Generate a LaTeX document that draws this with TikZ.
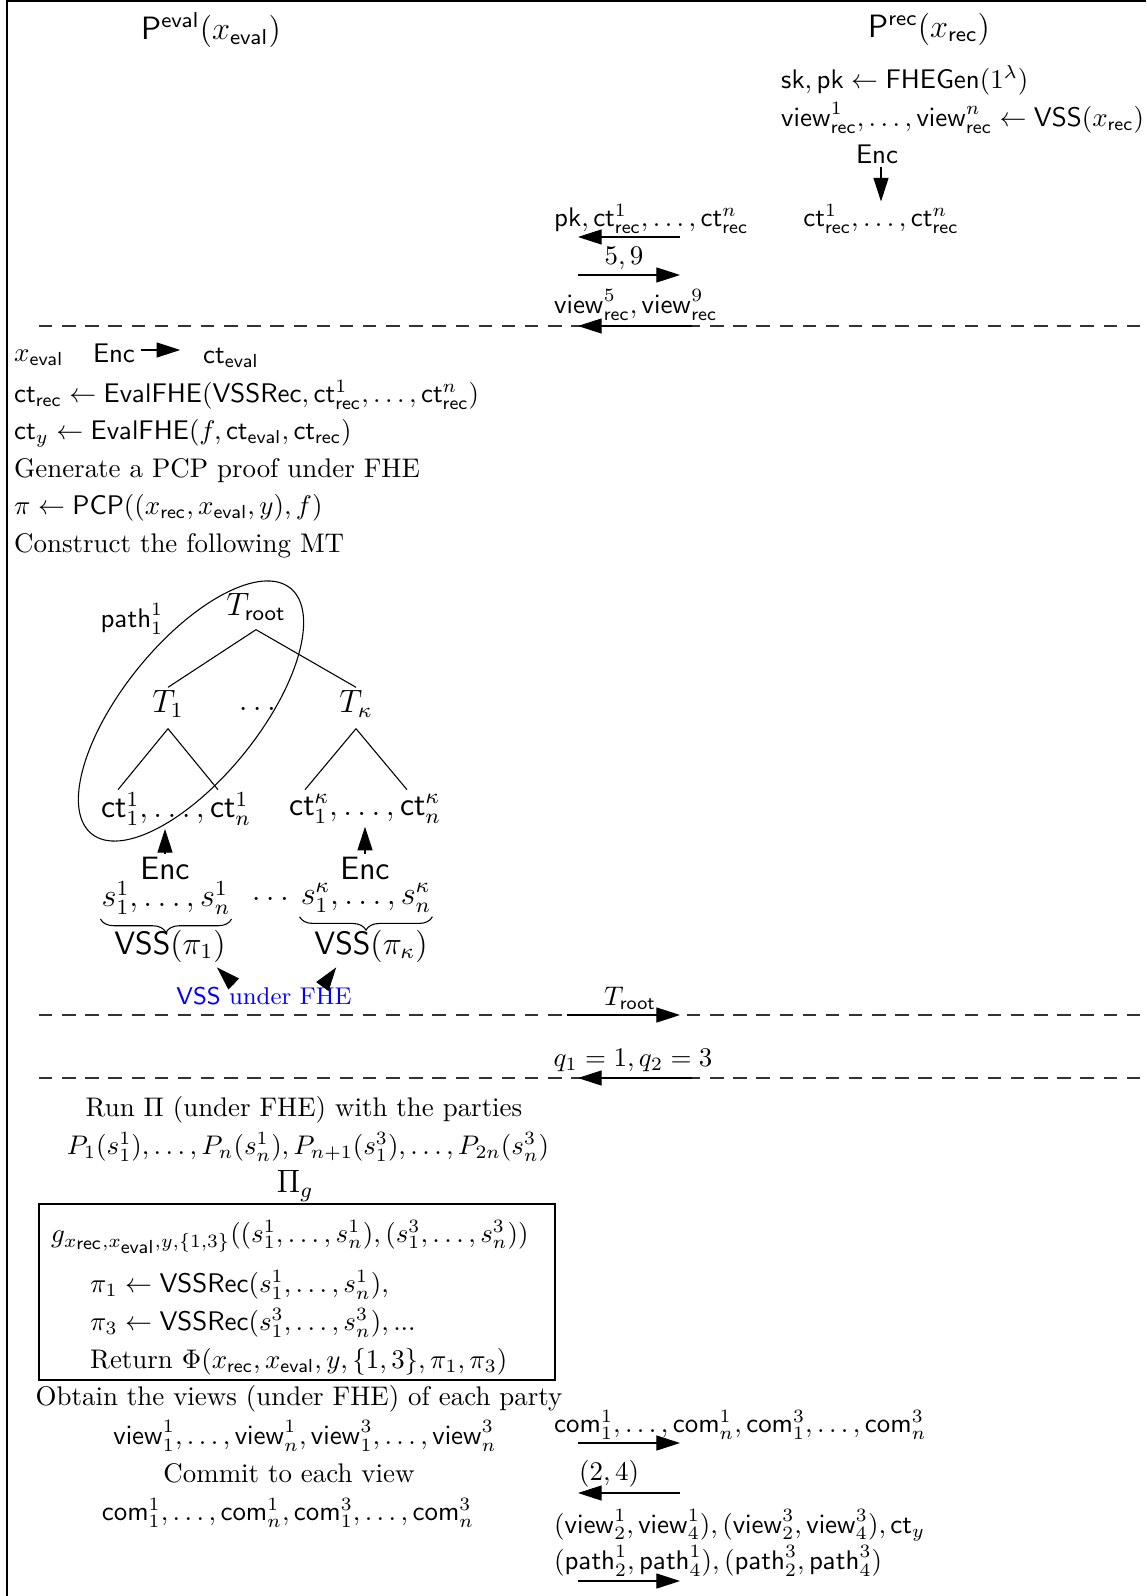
\documentclass[tikz,border=0pt]{standalone}
\usepackage{amsmath,amssymb}
\usetikzlibrary{arrows.meta,decorations.pathreplacing}

\newcommand{\sfct}{\mathsf{ct}}
\newcommand{\sfrec}{\mathsf{rec}}
\newcommand{\sfev}{\mathsf{eval}}
\newcommand{\sfview}{\mathsf{view}}
\newcommand{\sfcom}{\mathsf{com}}
\newcommand{\sfpath}{\mathsf{path}}

\tikzset{
  msg/.style={-{Triangle[length=8.8pt,width=5.6pt]}},
  txt/.style={inner sep=1pt},
  lft/.style={inner sep=1pt, anchor=west},
  sep/.style={dash pattern=on 5pt off 3.6pt, black!80},
  vssbrace/.style={decorate,decoration={brace,mirror,amplitude=5pt}},
}

\begin{document}
\begin{tikzpicture}[x=0.3716pt, y=-0.3716pt]
  \useasboundingbox (0,0) rectangle (1146,1596);
  \draw (7,1596) -- (7,1) -- (1146,1);

  % the two parties
  \node[txt,font=\large] (peval) at (211,30) {$\mathsf{P}^{\sfev}(x_{\sfev})$};
  \node[txt,font=\large] (prec) at (929,29) {$\mathsf{P}^{\sfrec}(x_{\sfrec})$};

  % receiver setup
  \node[lft] (keys) at (778,80) {$\mathsf{sk},\mathsf{pk}\leftarrow\mathsf{FHEGen}(1^\lambda)$};
  \node[lft] (shares) at (778,118) {$\sfview^1_{\sfrec},\dots,\sfview^n_{\sfrec}\leftarrow\mathsf{VSS}(x_{\sfrec})$};
  \node[txt] (encr) at (877,154) {$\mathsf{Enc}$};
  \node[txt] (ctr) at (881,219) {$\sfct^1_{\sfrec},\dots,\sfct^n_{\sfrec}$};
  \draw[msg] (encr.south -| ctr) -- (ctr.north);

  % messages
  \foreach \n/\y in {1/237,2/275,3/326,4/1015,5/1078,6/1443,7/1493,8/1581}{
    \coordinate (l\n) at (578,\y);
    \coordinate (r\n) at (680,\y);
  }
  \node[lft] (m1) at (551,219) {$\mathsf{pk},\sfct^1_{\sfrec},\dots,\sfct^n_{\sfrec}$};
  \node[txt] (m2) at (624,258) {$5,9$};
  \node[lft] (m3) at (551,305) {$\sfview^5_{\sfrec},\sfview^9_{\sfrec}$};
  \draw[msg] (r1) -- (l1);
  \draw[msg] (l2) -- (r2);
  \draw[sep] (39,326) -- (1146,326);
  \draw[msg] ([shift={(12,0)}]r3) -- (l3);

  % evaluator
  \node[lft] (xev) at (11,358) {$x_{\sfev}$};
  \node[txt] (enceval) at (114,353) {$\mathsf{Enc}$};
  \node[lft] (ctev) at (200,358) {$\sfct_{\sfev}$};
  \draw[msg] ([shift={(3,-3)}]enceval.east) -- ++(39,0);
  \node[lft] (l2eval) at (11,395) {$\sfct_{\sfrec}\leftarrow\mathsf{EvalFHE}(\mathsf{VSSRec},\sfct^1_{\sfrec},\dots,\sfct^n_{\sfrec})$};
  \node[lft] (l3eval) at (11,433) {$\sfct_y\leftarrow\mathsf{EvalFHE}(f,\sfct_{\sfev},\sfct_{\sfrec})$};
  \node[lft] (l4eval) at (11,471) {Generate a PCP proof under FHE};
  \node[lft] (l5eval) at (11,508) {$\pi\leftarrow\mathsf{PCP}((x_{\sfrec},x_{\sfev},y),f)$};
  \node[lft] (l6eval) at (11,546) {Construct the following MT};

  % Merkle tree
  \begin{scope}[font=\large]
    \node[txt] (troot) at (256,607) {$T_{\mathsf{root}}$};
    \node[txt] (t1) at (168,704) {$T_1$};
    \node[txt] (tdots) at (260,709) {$\dots$};
    \node[txt] (tk) at (356,704) {$T_\kappa$};
    \node[txt] (ctone) at (176,809) {$\sfct^1_1,\dots,\sfct^1_n$};
    \node[txt] (ctk) at (365,809) {$\sfct^\kappa_1,\dots,\sfct^\kappa_n$};
    \node[txt] (enc1) at (165,868) {$\mathsf{Enc}$};
    \node[txt] (enck) at (365,868) {$\mathsf{Enc}$};
    \node[txt] (sone) at (166,898) {$s^1_1,\dots,s^1_n$};
    \node[txt] (sdots) at (273,899) {$\dots$};
    \node[txt] (sk) at (366,898) {$s^\kappa_1,\dots,s^\kappa_n$};
    \node[txt] (vss1) at (170,946) {$\mathsf{VSS}(\pi_1)$};
    \node[txt] (vssk) at (371,946) {$\mathsf{VSS}(\pi_\kappa)$};
  \end{scope}
  \node[txt] (pth) at (132,619) {$\sfpath^1_1$};
  \draw ([shift={(0,6)}]troot.south) -- (t1.north);
  \draw ([shift={(0,6)}]troot.south) -- (tk.north);
  \draw ([shift={(0,8)}]t1.south) -- ++(-50,61);
  \draw ([shift={(0,8)}]t1.south) -- ++(50,61);
  \draw ([shift={(0,8)}]tk.south) -- ++(-51,61);
  \draw ([shift={(0,8)}]tk.south) -- ++(51,61);
  \draw[rotate around={51:(191,711)}] (191,711) ellipse (158 and 68);
  \draw[msg] (enc1.north) -- (enc1.north |- ctone.south);
  \draw[msg] (enck.north) -- (enck.north |- ctk.south);
  \draw[vssbrace] ([shift={(2,1)}]sone.south west) -- ([shift={(-2,1)}]sone.south east);
  \draw[vssbrace] ([shift={(2,1)}]sk.south west) -- ([shift={(-2,1)}]sk.south east);
  \node[txt,font=\small] (vsslbl) at (264,996) {\color{blue}$\mathsf{VSS}$ under FHE};
  \draw[msg] ([shift={(-30,0)}]vsslbl.north) -- ([shift={(-12,2)}]vss1.south east);
  \draw[msg] ([shift={(60,0)}]vsslbl.north) -- ([shift={(25,2)}]vssk.south west);

  % root and queries
  \node[txt] (m4) at (630,998) {$T_{\mathsf{root}}$};
  \draw[sep] (39,1015) -- (1146,1015);
  \draw[msg] ([shift={(-11,0)}]l4) -- (r4);
  \node[txt] (m5) at (633,1060) {$q_1=1,q_2=3$};
  \draw[sep] (39,1078) -- (1146,1078);
  \draw[msg] ([shift={(12,0)}]r5) -- (l5);

  % MPC in the head
  \node[txt] (run) at (304,1110) {Run $\Pi$ (under FHE) with the parties};
  \node[txt] (parties) at (308,1147) {$P_1(s^1_1),\dots,P_n(s^1_n),P_{n+1}(s^3_1),\dots,P_{2n}(s^3_n)$};
  \node[txt,font=\large] (pig) at (295,1186) {$\Pi_g$};
  \draw (39,1204) rectangle (555,1380);
  \node[lft] (gfun) at (48,1237) {$g_{x_{\scriptstyle\sfrec},x_{\scriptstyle\sfev},y,\{1,3\}}((s^1_1,\dots,s^1_n),(s^3_1,\dots,s^3_n))$};
  \node[lft] (pi1) at (87,1285) {$\pi_1\leftarrow\mathsf{VSSRec}(s^1_1,\dots,s^1_n),$};
  \node[lft] (pi3) at (87,1323) {$\pi_3\leftarrow\mathsf{VSSRec}(s^3_1,\dots,s^3_n),...$};
  \node[lft] (ret) at (87,1362) {Return $\Phi(x_{\sfrec},x_{\sfev},y,\{1,3\},\pi_1,\pi_3)$};
  \node[txt] (obtain) at (299,1399) {Obtain the views (under FHE) of each party};
  \node[txt] (views) at (305,1436) {$\sfview^1_1,\dots,\sfview^1_n,\sfview^3_1,\dots,\sfview^3_n$};
  \node[txt] (commit) at (289,1473) {Commit to each view};
  \node[txt] (coms) at (288,1513) {$\sfcom^1_1,\dots,\sfcom^1_n,\sfcom^3_1,\dots,\sfcom^3_n$};

  % opening
  \node[lft] (m6) at (551,1425) {$\sfcom^1_1,\dots,\sfcom^1_n,\sfcom^3_1,\dots,\sfcom^3_n$};
  \draw[msg] (l6) -- (r6);
  \node[lft] (m7) at (576,1474) {$(2,4)$};
  \draw[msg] (r7) -- (l7);
  \node[lft] (m8) at (551,1525) {$(\sfview^1_2,\sfview^1_4),(\sfview^3_2,\sfview^3_4),\sfct_y$};
  \node[lft] (m9) at (551,1561) {$(\sfpath^1_2,\sfpath^1_4),(\sfpath^3_2,\sfpath^3_4)$};
  \draw[msg] (l8) -- (r8);
\end{tikzpicture}
\end{document}
